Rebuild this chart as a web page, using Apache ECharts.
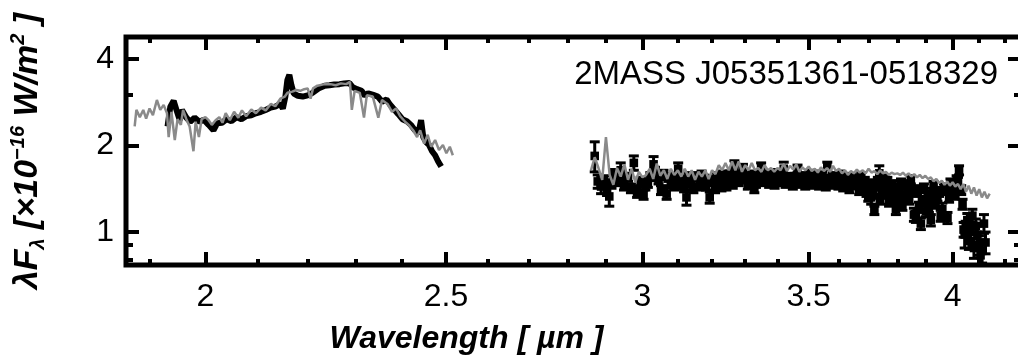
<!DOCTYPE html>
<html>
<head>
<meta charset="utf-8">
<script src="https://cdn.jsdelivr.net/npm/echarts@6/dist/echarts.min.js"></script>
<style>
  html, body { margin: 0; padding: 0; background: #fff; overflow: hidden; }
  #chart { width: 1024px; height: 362px; }
</style>
</head>
<body>
<div id="chart"></div>
<script>
// K band: model (gray) and observed (black thick line)
const kModelLambda = [1.873,1.876,1.882,1.888,1.893,1.899,1.905,1.912,1.918,1.924,1.930,1.933,1.938,1.944,1.949,1.955,1.959,1.965,1.971,1.978,1.982,1.988,1.993,2.000,2.006,2.012,2.019,2.026,2.032,2.038,2.046,2.054,2.062,2.069,2.077,2.087,2.096,2.106,2.115,2.125,2.134,2.144,2.153,2.158,2.168,2.176,2.184,2.192,2.199,2.205,2.210,2.219,2.234,2.246,2.257,2.268,2.279,2.287,2.291,2.297,2.308,2.317,2.323,2.336,2.348,2.356,2.368,2.378,2.387,2.396,2.407,2.415,2.425,2.434,2.441,2.450,2.458,2.466,2.475,2.484,2.493,2.501,2.509,2.516];
const kModelFlux = [2.33,2.66,2.51,2.66,2.48,2.69,2.55,2.88,2.66,2.77,2.59,2.14,2.62,2.09,2.47,2.36,2.66,2.47,2.33,1.91,2.42,2.14,2.47,2.51,2.45,2.36,2.45,2.51,2.40,2.59,2.45,2.62,2.50,2.65,2.53,2.67,2.59,2.71,2.65,2.79,2.74,2.91,2.96,3.05,3.08,3.12,3.10,3.14,3.16,2.91,3.16,3.23,3.27,3.27,3.24,3.29,3.27,3.33,2.66,3.10,3.05,2.50,2.99,2.96,2.50,2.88,2.79,2.62,2.69,2.53,2.42,2.36,2.26,2.14,2.26,2.03,2.18,1.98,2.09,1.93,2.01,1.88,1.98,1.85];

const kObsLambda = [1.931,1.936,1.942,1.947,1.953,1.957,1.965,1.972,1.980,1.989,1.997,2.006,2.015,2.022,2.031,2.040,2.049,2.059,2.068,2.077,2.087,2.096,2.106,2.115,2.125,2.134,2.144,2.149,2.154,2.158,2.162,2.166,2.171,2.179,2.189,2.199,2.209,2.222,2.234,2.244,2.254,2.265,2.275,2.286,2.293,2.302,2.312,2.319,2.326,2.337,2.347,2.356,2.366,2.374,2.383,2.392,2.401,2.411,2.420,2.429,2.437,2.443,2.448,2.454,2.461,2.468,2.475,2.482,2.489];
const kObsFlux = [2.33,2.73,2.86,2.66,2.45,2.66,2.50,2.42,2.50,2.42,2.46,2.36,2.26,2.39,2.40,2.47,2.43,2.51,2.47,2.53,2.55,2.59,2.62,2.66,2.71,2.73,2.79,2.69,2.96,3.38,3.52,3.25,3.03,2.98,2.96,2.99,3.05,3.16,3.23,3.24,3.26,3.27,3.29,3.30,3.19,3.14,3.10,2.98,3.04,3.00,2.96,2.84,2.89,2.77,2.67,2.57,2.47,2.43,2.36,2.26,2.21,2.45,2.14,2.06,2.01,1.91,1.85,1.76,1.69];

// L band: model (gray line)
const lModelLambda = [2.86,2.87,2.88,2.89,2.90,2.91,2.92,2.93,2.94,2.95,2.96,2.97,2.98,2.99,3.00,3.01,3.02,3.03,3.04,3.05,3.06,3.07,3.08,3.09,3.10,3.11,3.12,3.13,3.14,3.15,3.16,3.17,3.18,3.19,3.20,3.21,3.22,3.23,3.24,3.25,3.26,3.27,3.28,3.29,3.30,3.31,3.32,3.33,3.34,3.35,3.36,3.37,3.38,3.39,3.40,3.41,3.42,3.43,3.44,3.45,3.46,3.47,3.48,3.49,3.50,3.51,3.52,3.53,3.54,3.55,3.56,3.57,3.58,3.59,3.60,3.61,3.62,3.63,3.64,3.65,3.66,3.67,3.68,3.69,3.70,3.71,3.72,3.73,3.74,3.75,3.76,3.77,3.78,3.79,3.80,3.81,3.82,3.83,3.84,3.85,3.86,3.87,3.88,3.89,3.90,3.91,3.92,3.93,3.94,3.95,3.96,3.97,3.98,3.99,4.00,4.01,4.02,4.03,4.04,4.05,4.06,4.07,4.08,4.09,4.10,4.11,4.12,4.13,4.14];
const lModelFlux = [1.64,1.82,1.67,1.52,2.14,1.58,1.46,1.67,1.56,1.72,1.52,1.66,1.49,1.62,1.55,1.58,1.66,1.53,1.73,1.57,1.64,1.53,1.66,1.58,1.64,1.56,1.66,1.56,1.64,1.52,1.62,1.56,1.64,1.53,1.64,1.59,1.71,1.64,1.74,1.64,1.76,1.64,1.76,1.62,1.71,1.64,1.74,1.64,1.67,1.62,1.71,1.64,1.67,1.62,1.67,1.64,1.73,1.63,1.70,1.65,1.72,1.62,1.68,1.64,1.69,1.63,1.66,1.61,1.68,1.63,1.67,1.62,1.70,1.63,1.66,1.60,1.64,1.58,1.63,1.60,1.65,1.61,1.64,1.60,1.66,1.61,1.63,1.59,1.64,1.60,1.62,1.58,1.61,1.59,1.60,1.58,1.61,1.57,1.60,1.56,1.59,1.55,1.58,1.54,1.57,1.53,1.55,1.50,1.53,1.48,1.51,1.46,1.50,1.45,1.49,1.44,1.47,1.41,1.47,1.38,1.45,1.36,1.43,1.34,1.41,1.32,1.38,1.31,1.36];

// L band: observed points with error bars
const lObsLambda = [2.870,2.878,2.887,2.895,2.903,2.909,2.915,2.922,2.930,2.940,2.945,2.949,2.960,2.968,2.976,2.985,2.995,3.003,3.008,3.015,3.022,3.031,3.035,3.045,3.052,3.059,3.068,3.073,3.080,3.090,3.095,3.101,3.106,3.112,3.118,3.125,3.131,3.138,3.145,3.154,3.163,3.169,3.175,3.182,3.193,3.198,3.203,3.209,3.215,3.222,3.228,3.233,3.238,3.243,3.248,3.253,3.258,3.262,3.267,3.273,3.280,3.287,3.293,3.300,3.308,3.313,3.318,3.323,3.328,3.333,3.338,3.344,3.349,3.355,3.360,3.366,3.374,3.379,3.385,3.391,3.397,3.402,3.408,3.414,3.420,3.426,3.432,3.440,3.449,3.455,3.464,3.469,3.475,3.483,3.489,3.495,3.500,3.506,3.511,3.517,3.522,3.528,3.534,3.540,3.545,3.550,3.556,3.561,3.570,3.575,3.580,3.586,3.592,3.598,3.603,3.608,3.614,3.620,3.625,3.630,3.635,3.640,3.646,3.651,3.657,3.662,3.668,3.675,3.681,3.687,3.693,3.699,3.704,3.709,3.715,3.720,3.727,3.732,3.737,3.740,3.745,3.749,3.754,3.760,3.765,3.771,3.776,3.783,3.789,3.795,3.800,3.803,3.808,3.813,3.818,3.823,3.830,3.836,3.842,3.848,3.853,3.859,3.866,3.870,3.877,3.884,3.888,3.895,3.902,3.909,3.913,3.920,3.925,3.930,3.937,3.944,3.950,3.956,3.962,3.968,3.975,3.981,3.987,3.992,3.998,4.005,4.010,4.015,4.020,4.024,4.032,4.037,4.041,4.045,4.049,4.055,4.061,4.067,4.074,4.080,4.087,4.093,4.099,4.105,4.111,4.118,4.124];
const lObsFlux = [1.84,1.50,1.44,1.52,1.40,1.33,1.47,1.59,1.50,1.64,1.55,1.46,1.55,1.42,1.74,1.38,1.50,1.35,1.45,1.48,1.56,1.72,1.62,1.52,1.40,1.58,1.36,1.55,1.50,1.45,1.52,1.66,1.46,1.52,1.43,1.32,1.56,1.48,1.42,1.56,1.46,1.58,1.53,1.45,1.32,1.50,1.52,1.42,1.56,1.50,1.44,1.58,1.52,1.45,1.48,1.58,1.55,1.47,1.70,1.55,1.50,1.53,1.64,1.55,1.46,1.50,1.56,1.58,1.42,1.48,1.53,1.57,1.68,1.50,1.55,1.58,1.48,1.53,1.58,1.47,1.52,1.60,1.56,1.50,1.66,1.48,1.55,1.50,1.46,1.55,1.66,1.48,1.52,1.56,1.46,1.54,1.50,1.59,1.47,1.55,1.58,1.52,1.46,1.53,1.57,1.49,1.45,1.70,1.53,1.47,1.56,1.55,1.50,1.46,1.58,1.56,1.44,1.53,1.50,1.48,1.42,1.55,1.46,1.52,1.53,1.47,1.40,1.56,1.45,1.50,1.38,1.33,1.47,1.32,1.36,1.19,1.45,1.50,1.60,1.30,1.40,1.45,1.53,1.36,1.50,1.28,1.44,1.46,1.40,1.20,1.26,1.35,1.42,1.48,1.24,1.32,1.46,1.40,1.30,1.52,1.38,1.15,1.13,1.40,1.22,1.07,1.28,1.42,1.18,1.33,1.22,1.10,1.36,1.45,1.26,1.33,1.38,1.14,1.20,1.42,1.40,1.12,1.32,1.48,1.42,1.46,1.35,1.52,1.50,1.64,1.40,1.25,1.02,0.98,1.04,1.10,0.93,1.00,1.14,0.88,1.05,0.98,0.90,0.83,0.86,1.07,0.92];
const lObsErr = [0.22,0.08,0.08,0.05,0.06,0.10,0.05,0.06,0.05,0.10,0.05,0.06,0.05,0.05,0.10,0.06,0.05,0.05,0.05,0.05,0.05,0.11,0.06,0.05,0.05,0.06,0.06,0.05,0.05,0.05,0.05,0.08,0.05,0.05,0.05,0.08,0.05,0.05,0.05,0.05,0.06,0.05,0.05,0.05,0.06,0.05,0.05,0.05,0.05,0.05,0.05,0.05,0.05,0.05,0.05,0.05,0.05,0.05,0.07,0.05,0.05,0.05,0.08,0.05,0.05,0.05,0.05,0.05,0.05,0.05,0.05,0.05,0.06,0.05,0.05,0.05,0.05,0.05,0.05,0.05,0.05,0.05,0.05,0.05,0.09,0.05,0.05,0.05,0.05,0.05,0.05,0.05,0.05,0.05,0.05,0.05,0.05,0.05,0.05,0.05,0.05,0.05,0.05,0.05,0.05,0.05,0.05,0.05,0.05,0.05,0.05,0.05,0.05,0.05,0.05,0.05,0.05,0.05,0.05,0.05,0.05,0.05,0.05,0.05,0.05,0.05,0.05,0.05,0.05,0.05,0.05,0.05,0.05,0.07,0.05,0.04,0.05,0.05,0.10,0.05,0.05,0.05,0.05,0.05,0.05,0.05,0.05,0.05,0.05,0.05,0.05,0.05,0.05,0.05,0.05,0.05,0.05,0.05,0.05,0.05,0.05,0.06,0.05,0.05,0.05,0.05,0.05,0.05,0.05,0.05,0.05,0.05,0.06,0.05,0.05,0.05,0.05,0.05,0.06,0.05,0.05,0.05,0.05,0.05,0.05,0.05,0.05,0.05,0.05,0.06,0.05,0.05,0.06,0.10,0.05,0.06,0.06,0.06,0.06,0.07,0.06,0.07,0.07,0.07,0.08,0.08,0.08,0.08,0.08,0.08,0.07];

// axes
const xMajorTicks = [2, 2.5, 3, 3.5, 4];
const xMinorTicks = [1.9, 2.1, 2.2, 2.3, 2.4, 2.6, 2.7, 2.8, 2.9, 3.1, 3.2, 3.3, 3.4, 3.6, 3.7, 3.8, 3.9, 4.1, 4.2];
const yMajorTicks = [1, 2, 4];
const yMinorTicks = [0.8, 0.9, 3];
const xRange = [1.858, 4.262];
const yRange = [0.768, 4.77];
const objectName = '2MASS J05351361-0518329';

const INK = '#000000';
const MODEL = '#8a8a8a';
const LABEL_FONT = '"Liberation Sans", Arial, sans-serif';

const pairs = (xs, ys) => xs.map((x, i) => [x, ys[i]]);

function xAxisDef(position, ticks, len, withLabels) {
  return {
    type: 'log', gridIndex: 0, position,
    min: xRange[0], max: xRange[1],
    axisLine: { show: false }, splitLine: { show: false }, minorTick: { show: false },
    axisTick: { show: true, inside: true, length: len, customValues: ticks, lineStyle: { color: INK, width: 4 } },
    axisLabel: withLabels ? {
      customValues: ticks, color: INK, fontSize: 32, fontFamily: LABEL_FONT, margin: 16,
      formatter: (v) => String(Math.round(v * 100) / 100),
    } : { show: false },
  };
}

function yAxisDef(position, ticks, len, withLabels) {
  return {
    type: 'log', gridIndex: 0, position,
    min: yRange[0], max: yRange[1],
    axisLine: { show: false }, splitLine: { show: false }, minorTick: { show: false },
    axisTick: { show: true, inside: true, length: len, customValues: ticks, lineStyle: { color: INK, width: 4 } },
    axisLabel: withLabels ? {
      customValues: ticks, color: INK, fontSize: 32, fontFamily: LABEL_FONT, margin: 12,
      formatter: (v) => String(Math.round(v * 100) / 100),
    } : { show: false },
  };
}

const titleFont = { fontFamily: LABEL_FONT, fontWeight: 'bold', fontStyle: 'italic', color: INK };

const xAxes = [
  xAxisDef('bottom', xMajorTicks, 13, true),
  xAxisDef('bottom', xMinorTicks, 6, false),
  xAxisDef('top', xMajorTicks, 13, false),
  xAxisDef('top', xMinorTicks, 6, false),
];
Object.assign(xAxes[0], {
  name: 'Wavelength [ \u00b5m ]',
  nameLocation: 'middle',
  nameGap: 58,
  nameTextStyle: { ...titleFont, fontSize: 32, padding: [0, 214, 0, 0] },
});

const yAxes = [
  yAxisDef('left', yMajorTicks, 13, true),
  yAxisDef('left', yMinorTicks, 7, false),
  yAxisDef('right', yMajorTicks, 13, false),
  yAxisDef('right', yMinorTicks, 7, false),
];
Object.assign(yAxes[0], {
  name: '{b|\u03bbF}{s|\u03bb}{b| [\u00d710}{p|\u221216}{b| W/m}{p|2}{b| ]}',
  nameLocation: 'middle',
  nameRotate: 90,
  nameGap: 78,
  nameTextStyle: {
    rich: {
      b: { ...titleFont, fontSize: 34, lineHeight: 40, verticalAlign: 'middle' },
      s: { ...titleFont, fontSize: 20, lineHeight: 40, verticalAlign: 'bottom' },
      p: { ...titleFont, fontSize: 20, lineHeight: 40, verticalAlign: 'top' },
    },
  },
});

function renderErrorBar(params, api) {
  const lam = api.value(0);
  const f = api.value(1);
  const e = api.value(2);
  const p = api.coord([lam, f]);
  const hi = api.coord([lam, f + e]);
  const lo = api.coord([lam, f - e]);
  const cap = 5;
  const half = 4.3;
  const stroke = { stroke: INK, lineWidth: 3 };
  return {
    type: 'group',
    children: [
      { type: 'line', shape: { x1: p[0], y1: hi[1], x2: p[0], y2: lo[1] }, style: stroke },
      { type: 'line', shape: { x1: p[0] - cap, y1: hi[1], x2: p[0] + cap, y2: hi[1] }, style: stroke },
      { type: 'line', shape: { x1: p[0] - cap, y1: lo[1], x2: p[0] + cap, y2: lo[1] }, style: stroke },
      { type: 'rect', shape: { x: p[0] - half, y: p[1] - half, width: half * 2, height: half * 2 }, style: { fill: INK } },
    ],
  };
}

const chart = echarts.init(document.getElementById('chart'), null, { renderer: 'canvas' });

chart.setOption({
  animation: false,
  backgroundColor: '#ffffff',
  title: {
    text: objectName,
    right: 26,
    top: 58,
    padding: 0,
    textStyle: { fontFamily: LABEL_FONT, fontWeight: 'normal', fontSize: 33, color: INK },
  },
  grid: {
    left: 120, top: 37, right: 3, bottom: 97,
    show: true, borderColor: INK, borderWidth: 5, backgroundColor: 'transparent',
  },
  xAxis: xAxes,
  yAxis: yAxes,
  series: [
    {
      name: 'K observed', type: 'line', xAxisIndex: 0, yAxisIndex: 0,
      data: pairs(kObsLambda, kObsFlux),
      showSymbol: false, lineStyle: { color: INK, width: 6 }, z: 2,
    },
    {
      name: 'K model', type: 'line', xAxisIndex: 0, yAxisIndex: 0,
      data: pairs(kModelLambda, kModelFlux),
      showSymbol: false, lineStyle: { color: MODEL, width: 2.5 }, z: 3,
    },
    {
      name: 'L observed', type: 'custom', xAxisIndex: 0, yAxisIndex: 0,
      data: lObsLambda.map((l, i) => [l, lObsFlux[i], lObsErr[i]]),
      encode: { x: 0, y: 1 },
      renderItem: renderErrorBar, clip: true, z: 2,
    },
    {
      name: 'L model', type: 'line', xAxisIndex: 0, yAxisIndex: 0,
      data: pairs(lModelLambda, lModelFlux),
      showSymbol: false, lineStyle: { color: MODEL, width: 2.5 }, z: 3,
    },
  ],
});
</script>
</body>
</html>
